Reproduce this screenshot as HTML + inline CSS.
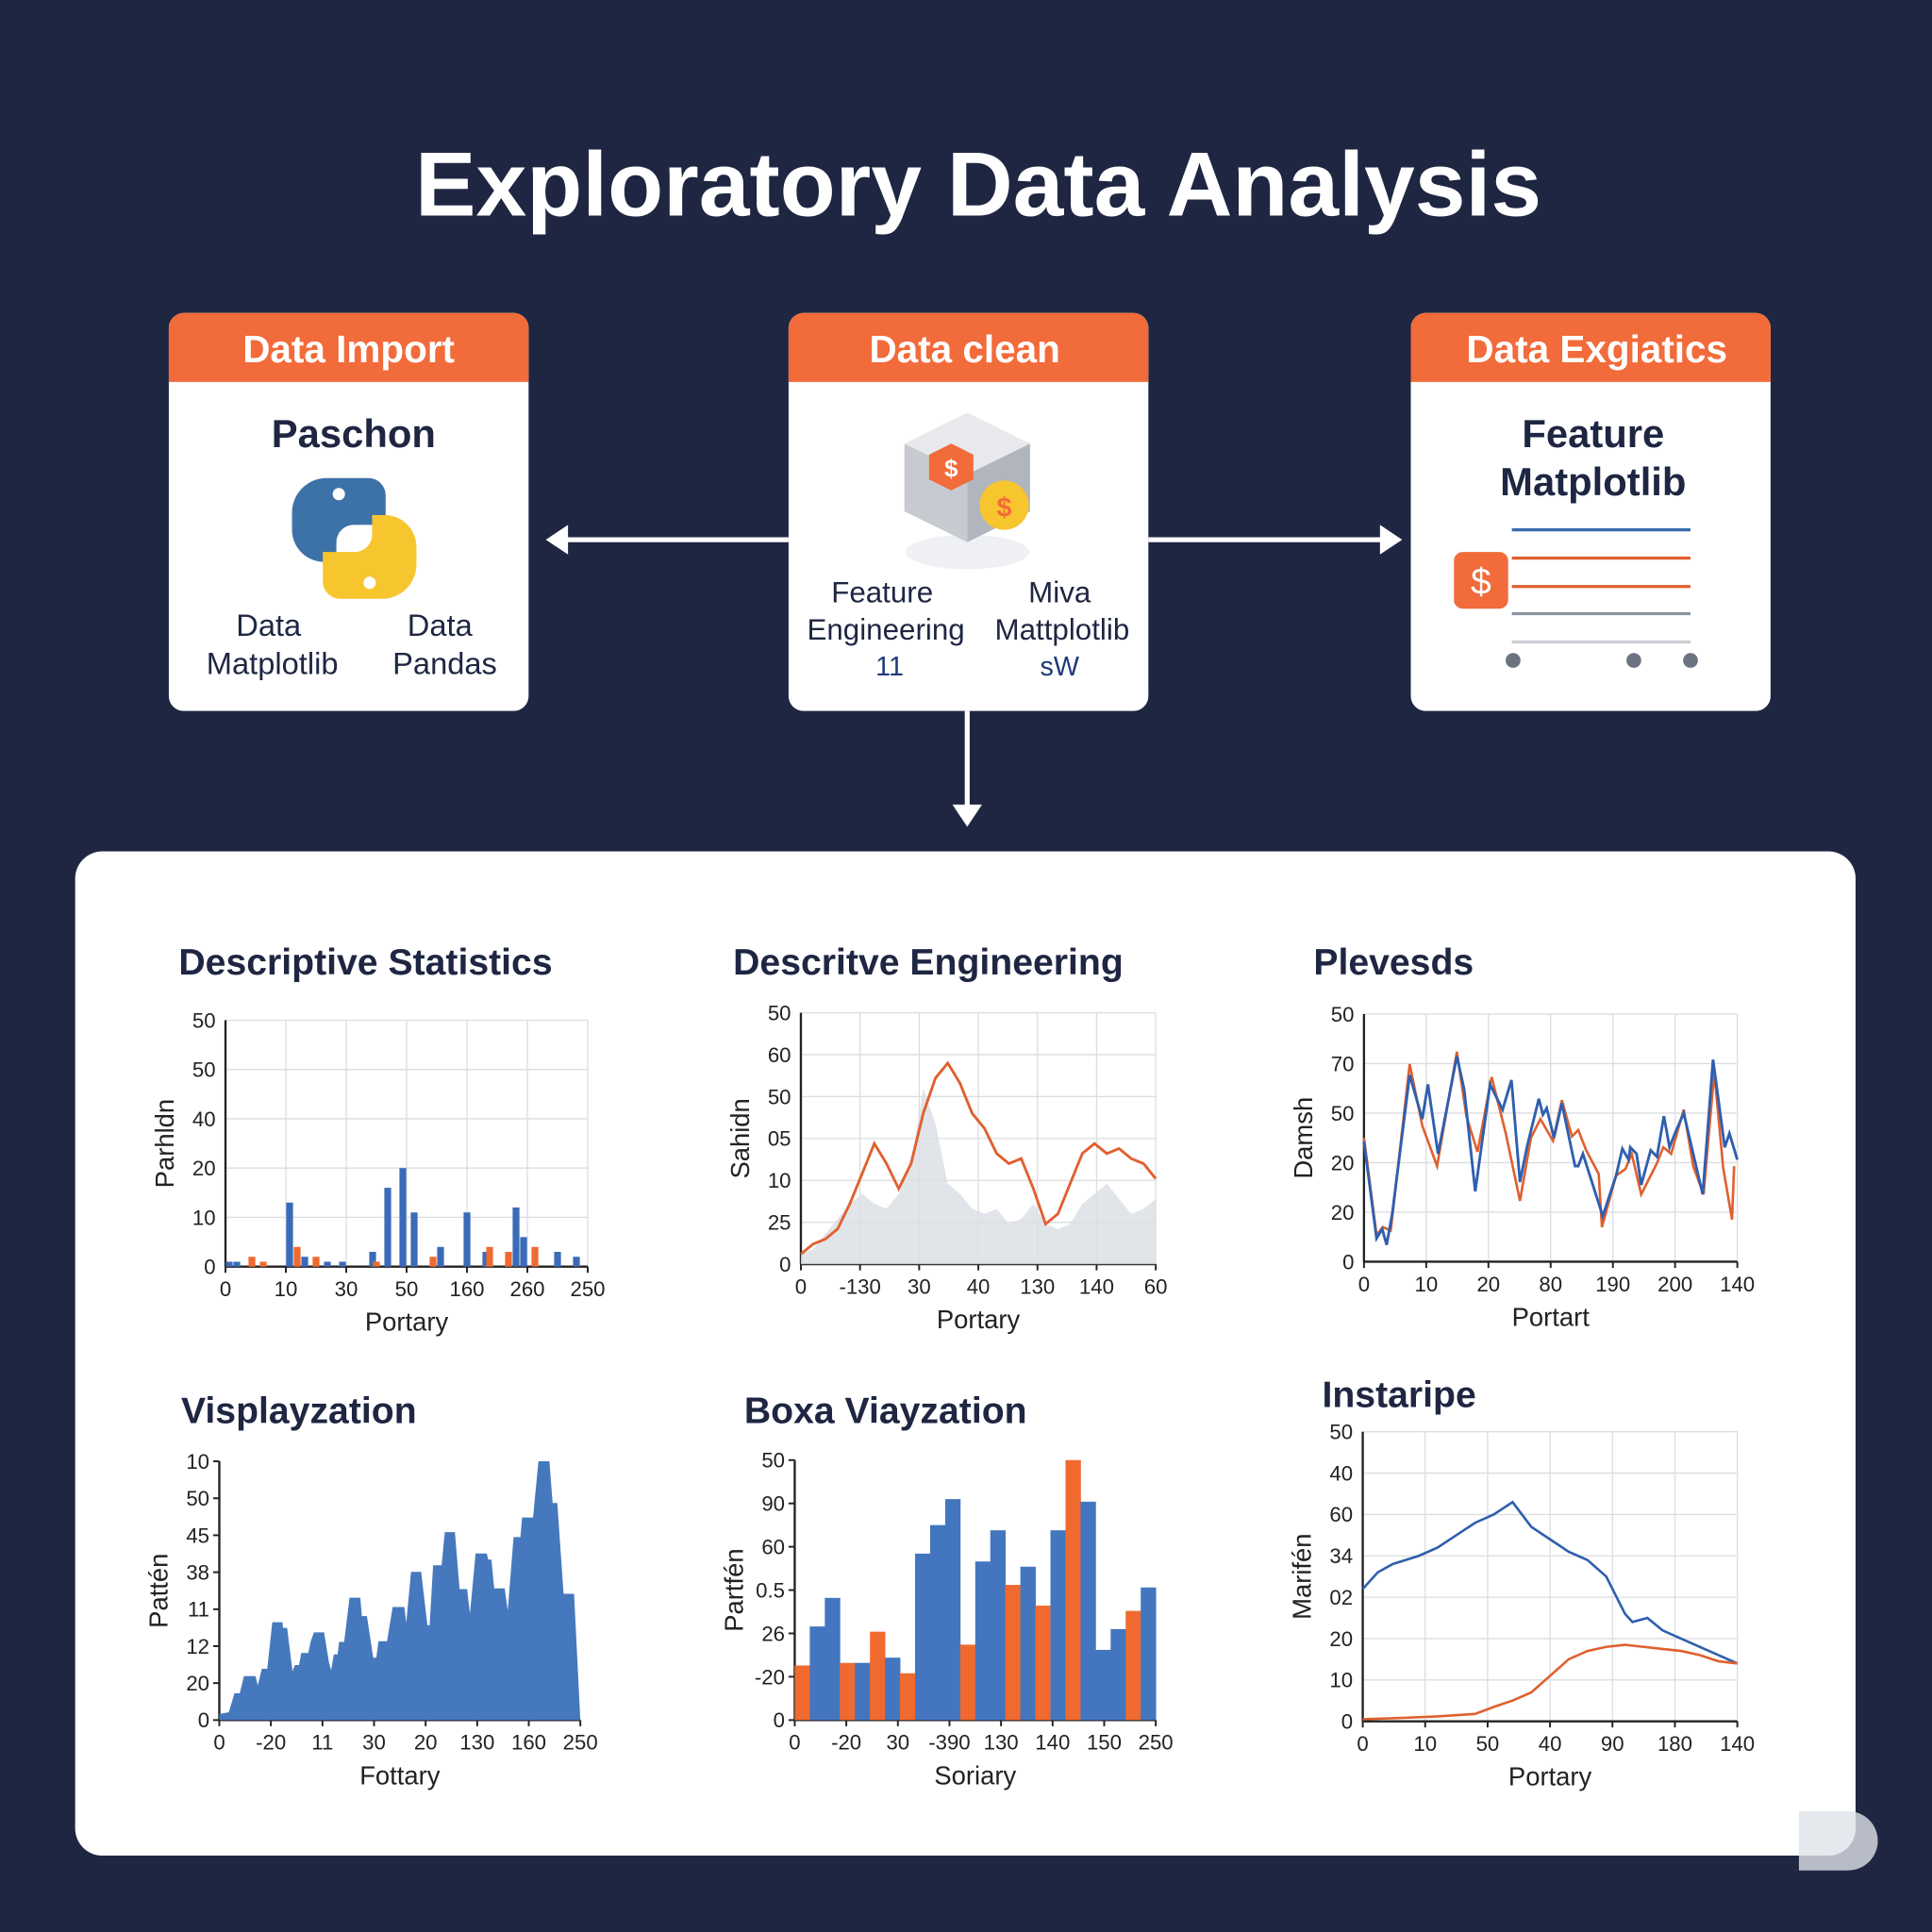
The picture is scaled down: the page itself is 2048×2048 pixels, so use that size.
<!DOCTYPE html>
<html><head><meta charset="utf-8"><style>
html,body{margin:0;padding:0;background:#1e2642;}
svg{display:block}
text{font-family:"Liberation Sans",sans-serif}
</style></head><body>
<svg id="root" width="2048" height="2048" viewBox="0 0 1568 1568" xmlns="http://www.w3.org/2000/svg">
<rect width="1568" height="1568" fill="#1e2642"/>
<text x="794" y="175" text-anchor="middle" font-size="74" font-weight="bold" fill="#fff">Exploratory Data Analysis</text>

<g>
<rect x="137" y="254" width="292" height="323" rx="12" fill="#fff"/>
<path d="M137 310 V266 a12 12 0 0 1 12 -12 H417 a12 12 0 0 1 12 12 V310 Z" fill="#f26b3a"/>
<text x="283" y="294" text-anchor="middle" font-size="31" font-weight="bold" fill="#fff">Data Import</text>
<text x="287" y="363" text-anchor="middle" font-size="32" font-weight="bold" fill="#1e2642">Paschon</text>
<g>
<path d="M285 388 h-20 a28 28 0 0 0 -28 28 v14 a26 26 0 0 0 26 26 h10 v-16 a14 14 0 0 1 14 -14 h26 v-24 a14 14 0 0 0 -14 -14 z" fill="#3d72a8"/>
<circle cx="275" cy="401" r="5" fill="#fff"/>
<path d="M290 486 h20 a28 28 0 0 0 28 -28 v-14 a26 26 0 0 0 -26 -26 h-10 v16 a14 14 0 0 1 -14 14 h-26 v24 a14 14 0 0 0 14 14 z" fill="#f7c52e"/>
<circle cx="300" cy="473" r="5" fill="#fff"/>
</g>
<text x="218" y="516" text-anchor="middle" font-size="25" fill="#1e2642">Data</text>
<text x="221" y="547" text-anchor="middle" font-size="25" fill="#1e2642">Matplotlib</text>
<text x="357" y="516" text-anchor="middle" font-size="25" fill="#1e2642">Data</text>
<text x="361" y="547" text-anchor="middle" font-size="25" fill="#1e2642">Pandas</text>
</g>

<g>
<rect x="640" y="254" width="292" height="323" rx="12" fill="#fff"/>
<path d="M640 310 V266 a12 12 0 0 1 12 -12 H920 a12 12 0 0 1 12 12 V310 Z" fill="#f26b3a"/>
<text x="783" y="294" text-anchor="middle" font-size="31" font-weight="bold" fill="#fff">Data clean</text>
<g>
<ellipse cx="785" cy="448" rx="50" ry="14" fill="#eef0f3"/>
<path d="M734 360 L785 335 L836 360 L785 385 Z" fill="#e8e9ec"/>
<path d="M734 360 L785 385 L785 440 L734 415 Z" fill="#c7cad0"/>
<path d="M836 360 L785 385 L785 440 L836 415 Z" fill="#b1b5bd"/>
<polygon points="772,360 790,369 790,389 772,398 754,389 754,369" fill="#f26b3a"/>
<text x="772" y="387" text-anchor="middle" font-size="20" font-weight="bold" fill="#fff">$</text>
<circle cx="815" cy="410" r="20" fill="#f7c52e"/>
<text x="815" y="419" text-anchor="middle" font-size="22" font-weight="bold" fill="#f26b3a">$</text>
</g>
<text x="716" y="489" text-anchor="middle" font-size="24" fill="#1e2642">Feature</text>
<text x="719" y="519" text-anchor="middle" font-size="24" fill="#1e2642">Engineering</text>
<text x="722" y="548" text-anchor="middle" font-size="22" fill="#1e3a7a">11</text>
<text x="860" y="489" text-anchor="middle" font-size="24" fill="#1e2642">Miva</text>
<text x="862" y="519" text-anchor="middle" font-size="24" fill="#1e2642">Mattplotlib</text>
<text x="860" y="548" text-anchor="middle" font-size="22" fill="#1e3a7a">sW</text>
</g>

<g>
<rect x="1145" y="254" width="292" height="323" rx="12" fill="#fff"/>
<path d="M1145 310 V266 a12 12 0 0 1 12 -12 H1425 a12 12 0 0 1 12 12 V310 Z" fill="#f26b3a"/>
<text x="1296" y="294" text-anchor="middle" font-size="31" font-weight="bold" fill="#fff">Data Exgiatics</text>
<text x="1293" y="363" text-anchor="middle" font-size="32" font-weight="bold" fill="#1e2642">Feature</text>
<text x="1293" y="402" text-anchor="middle" font-size="32" font-weight="bold" fill="#1e2642">Matplotlib</text>
<line x1="1227" y1="430" x2="1372" y2="430" stroke="#3a6bb0" stroke-width="2.5"/>
<line x1="1227" y1="453" x2="1372" y2="453" stroke="#e0602f" stroke-width="2.5"/>
<line x1="1227" y1="476" x2="1372" y2="476" stroke="#e0602f" stroke-width="2.5"/>
<line x1="1227" y1="498" x2="1372" y2="498" stroke="#8a93a0" stroke-width="2.5"/>
<line x1="1227" y1="521" x2="1372" y2="521" stroke="#c9ccd2" stroke-width="2.5"/>
<rect x="1180" y="448" width="44" height="46" rx="7" fill="#f26b3a"/>
<text x="1202" y="482" text-anchor="middle" font-size="30" fill="#fff">$</text>
<circle cx="1228" cy="536" r="6" fill="#6b7280"/>
<circle cx="1326" cy="536" r="6" fill="#6b7280"/>
<circle cx="1372" cy="536" r="6" fill="#6b7280"/>
</g>

<g stroke="#fff" stroke-width="4" fill="#fff">
<line x1="640" y1="438" x2="456" y2="438"/>
<path d="M443 438 L461 426 L461 450 Z" stroke="none"/>
<line x1="932" y1="438" x2="1124" y2="438"/>
<path d="M1138 438 L1120 426 L1120 450 Z" stroke="none"/>
<line x1="785" y1="577" x2="785" y2="657"/>
<path d="M785 671 L773 653 L797 653 Z" stroke="none"/>
</g>

<rect x="61" y="691" width="1445" height="815" rx="22" fill="#fff"/>
<path d="M1460 1470 h40 a18 18 0 0 1 0 48 h-40 z" fill="#dfe2e8" opacity="0.8"/>
<g id="charts"></g>
</svg>
<script>
const c1Ticks=["0","10","20","40","50","50"];
const c1XLabels=["0","10","30","50","160","260","250"];
const c1BlueX=[0.5,1.5,8.5,10.5,13.5,15.5,19.5,21.5,23.5,25,28.5,32,34.5,38.5,39.5,44,46.5];
const c1BlueV=[1,1,13,2,1,1,3,16,20,11,4,11,3,12,6,3,2];
const c1OrangeX=[3.5,5,9.5,12,20,27.5,35,37.5,41];
const c1OrangeV=[2,1,4,2,1,2,4,3,4];

const c2Ticks=["0","25","10","05","50","60","50"];
const c2XLabels=["0","-130","30","40","130","140","60"];
const c2GrayV=[2,3,6,9,12,14,12,11,14,20,35,28,16,14,11,10,11,8,9,12,8,7,8,12,14,16,13,10,11,13];
const c2OrangeV=[2,4,5,7,12,18,24,20,15,20,30,37,40,36,30,27,22,20,21,15,8,10,16,22,24,22,23,21,20,17];

const c3Ticks=["0","20","20","50","70","50"];
const c3XLabels=["0","10","20","80","190","200","140"];
const c3BlueX=[0,40,58,72,90,145,185,203,235,295,318,353,400,440,468,495,518,555,568,580,603,628,670,680,695,758,800,820,840,845,865,880,910,930,952,970,985,1015,1075,1108,1145,1160,1185];
const c3BlueV=[24.3,4.7,6.6,3.4,9.8,37.7,28.8,35.8,21.8,41.5,34.8,14.2,35.8,30.7,36.7,16.1,23.4,32.9,29.7,31,25,32,19.3,19.3,21.8,9.2,17.4,22.8,20.6,23.1,21.8,15.5,22.5,21.2,29.4,23.1,25.6,30,13.6,40.8,23.1,25.9,20.6];
const c3OrangeX=[0,40,60,85,145,185,232,295,325,360,405,450,495,530,560,600,628,660,680,705,745,755,800,830,850,880,930,950,975,1015,1045,1078,1112,1140,1168,1175];
const c3OrangeV=[25,5.4,7,6.3,39.9,27.5,19.3,42.4,29.4,22.2,37.3,25.9,12.3,25,28.8,24.4,32.6,25.3,26.6,22.5,17.7,7,17.4,18.7,21.8,13.6,19.9,23.1,21.8,30.7,19.3,13.6,38.3,19,8.5,19.3];

const c4Ticks=["0","20","12","11","38","45","50","10"];
const c4XLabels=["0","-20","11","30","20","130","160","250"];
const c4X=[0,30,48,65,78,115,122,135,152,168,200,202,215,232,240,253,260,282,290,300,332,348,355,363,375,380,396,413,447,452,468,488,498,505,532,550,587,593,608,640,660,667,678,705,715,747,762,786,795,813,848,853,863,872,905,915,933,955,960,995,1012,1047,1057,1072,1092,1125,1145];
const c4V=[2.4,3,10.4,10.4,17,17,13.4,19.8,19.8,37.8,37.8,35.6,35.6,18.9,21.3,21.3,25.9,25.9,30.5,33.9,33.9,22,19.3,25.4,25.4,30.2,30.2,47.3,47.3,40.2,40.2,24.1,24.1,30.5,30.5,43.7,43.7,37.6,57.3,57.3,36.6,36.6,59.8,59.8,72.6,72.6,50.6,50.6,41.1,64.4,64.4,62,62,50.9,50.9,42.4,70.7,70.7,78.3,78.3,100,100,83.9,83.9,48.8,48.8,0];

const c5Ticks=["0","-20","26","0.5","60","90","50"];
const c5XLabels=["0","-20","30","-390","130","140","150","250"];
const c5Colors=["o","b","b","o","b","o","b","o","b","b","b","o","b","b","o","b","o","b","o","b","b","b","o","b"];
const c5V=[21,36,47,22,22,34,24,18,64,75,85,29,61,73,52,59,44,73,100,84,27,35,42,51];

const c6Ticks=["0","10","20","02","34","60","40","50"];
const c6XLabels=["0","10","50","40","90","180","140"];
const c6BlueX=[0,4,8,15,20,25,30,35,40,45,50,55,60,65,70,72,76,80,85,90,95,100];
const c6BlueV=[32,36,38,40,42,45,48,50,53,47,44,41,39,35,26,24,25,22,20,18,16,14];
const c6OrangeX=[0,10,20,30,35,40,45,50,55,60,65,70,75,80,85,90,95,100];
const c6OrangeV=[0.5,0.8,1.2,1.8,3.5,5,7,11,15,17,18,18.5,18,17.5,17,16,14.5,14];

const NS="http://www.w3.org/2000/svg";
const G=document.getElementById('charts');
const BLUE="#3a6bb8",ORANGE="#f06a30";
function mk(tag,attrs,parent){const e=document.createElementNS(NS,tag);for(const k in attrs)e.setAttribute(k,attrs[k]);(parent||G).appendChild(e);return e;}
function scale(d0,d1,r0,r1){return v=>r0+(v-d0)/(d1-d0)*(r1-r0);}

function frame(o){
  const g=mk('g',{});
  
  
  const t=mk('text',{x:o.tx,y:o.ty,'font-size':30,'font-weight':'bold',fill:'#1e2642'},g);t.textContent=o.title;
  
  
  const n=o.yt.length;
  o.yt.forEach((lab,i)=>{const y=o.y1-(o.y1-o.y0)*i/(n-1);
    if(o.grid)mk('line',{x1:o.x0,x2:o.x1,y1:y,y2:y,stroke:'#dcdde0','stroke-width':1},g);
    if(o.ticks)mk('line',{x1:o.x0-5,x2:o.x0,y1:y,y2:y,stroke:'#222','stroke-width':1.5},g);
    const tx=mk('text',{x:o.x0-8,y:y+6,'text-anchor':'end','font-size':17,fill:'#222'},g);tx.textContent=lab;});
  const m=o.xt.length;
  o.xt.forEach((lab,i)=>{const x=o.x0+(o.x1-o.x0)*i/(m-1);
    if(o.grid)mk('line',{x1:x,x2:x,y1:o.y0,y2:o.y1,stroke:'#dcdde0','stroke-width':1},g);
    mk('line',{x1:x,x2:x,y1:o.y1,y2:o.y1+5,stroke:'#222','stroke-width':1.5},g);
    const tx=mk('text',{x:x,y:o.y1+24,'text-anchor':'middle','font-size':17,fill:'#222'},g);tx.textContent=lab;});
  mk('line',{x1:o.x0,x2:o.x0,y1:o.y0,y2:o.y1,stroke:'#222','stroke-width':1.8},g);
  mk('line',{x1:o.x0,x2:o.x1,y1:o.y1,y2:o.y1,stroke:'#222','stroke-width':1.8},g);
  const xl=mk('text',{x:(o.x0+o.x1)/2,y:o.y1+52,'text-anchor':'middle','font-size':21,fill:'#222'},g);xl.textContent=o.xlab;
  
  
  const yx=o.x0-42,yy=(o.y0+o.y1)/2;
  const yl=mk('text',{x:yx,y:yy,'text-anchor':'middle','font-size':21,fill:'#222',transform:`rotate(-90 ${yx} ${yy})`},g);yl.textContent=o.ylab;
  
  
  return g;
}
function pathOf(xs,vs,sx,sy){return xs.map((x,i)=>(i?'L':'M')+sx(x).toFixed(1)+' '+sy(vs[i]).toFixed(1)).join(' ');}

{const o={name:'descriptive-statistics-chart',title:'Descriptive Statistics',tx:145,ty:791,x0:183,x1:477,y0:828,y1:1028,yt:c1Ticks,xt:c1XLabels,grid:true,xlab:'Portary',ylab:'Parhldn'};
const g=frame(o);const sx=scale(0,48,o.x0,o.x1),sy=scale(0,50,o.y1,o.y0);const w=(o.x1-o.x0)/48*0.9;
c1BlueX.forEach((x,i)=>{const r=mk('rect',{x:sx(x)-w/2,y:sy(c1BlueV[i]),width:w,height:o.y1-sy(c1BlueV[i]),fill:BLUE},g);

});
c1OrangeX.forEach((x,i)=>{const r=mk('rect',{x:sx(x)-w/2,y:sy(c1OrangeV[i]),width:w,height:o.y1-sy(c1OrangeV[i]),fill:ORANGE},g);

});}

{const o={name:'descriptive-engineering-chart',title:'Descritve Engineering',tx:595,ty:791,x0:650,x1:938,y0:822,y1:1026,yt:c2Ticks,xt:c2XLabels,grid:true,xlab:'Portary',ylab:'Sahidn'};
const g=frame(o);const n=c2GrayV.length;const xs=c2GrayV.map((_,i)=>i);const sx=scale(0,n-1,o.x0,o.x1),sy=scale(0,50,o.y1,o.y0);
const a=mk('path',{d:pathOf(xs,c2GrayV,sx,sy)+` L${o.x1} ${o.y1} L${o.x0} ${o.y1} Z`,fill:'#dcdfe4',opacity:0.85},g);


const l=mk('path',{d:pathOf(xs,c2OrangeV,sx,sy),fill:'none',stroke:'#e0602f','stroke-width':2.2},g);

}

{const o={name:'plevesds-chart',title:'Plevesds',tx:1066,ty:791,x0:1107,x1:1410,y0:823,y1:1024,yt:c3Ticks,xt:c3XLabels,grid:true,xlab:'Portart',ylab:'Damsh'};
const g=frame(o);const sx=scale(0,1185,o.x0,o.x1),sy=scale(0,50,o.y1,o.y0);
const l2=mk('path',{d:pathOf(c3OrangeX,c3OrangeV,sx,sy),fill:'none',stroke:'#e0602f','stroke-width':2},g);


const l=mk('path',{d:pathOf(c3BlueX,c3BlueV,sx,sy),fill:'none',stroke:'#2f5fae','stroke-width':2.2},g);

}

{const o={name:'visplayzation-chart',title:'Visplayzation',tx:147,ty:1155,x0:178,x1:471,y0:1186,y1:1396,yt:c4Ticks,xt:c4XLabels,grid:false,ticks:true,xlab:'Fottary',ylab:'Pattén'};
const g=frame(o);const sx=scale(0,1145,o.x0,o.x1),sy=scale(0,100,o.y1,o.y0);
const a=mk('path',{d:pathOf(c4X,c4V,sx,sy)+` L${o.x0} ${o.y1} Z`,fill:'#4678bd'},g);

}

{const o={name:'boxa-viayzation-chart',title:'Boxa Viayzation',tx:604,ty:1155,x0:645,x1:938,y0:1185,y1:1396,yt:c5Ticks,xt:c5XLabels,grid:false,ticks:true,xlab:'Soriary',ylab:'Partfén'};
const g=frame(o);const n=c5V.length;const bw=(o.x1-o.x0)/n;const sy=scale(0,100,o.y1,o.y0);
c5V.forEach((v,i)=>{const r=mk('rect',{x:o.x0+i*bw,y:sy(v),width:bw+0.3,height:o.y1-sy(v),fill:c5Colors[i]=='o'?ORANGE:'#4476c0'},g);

});}

{const o={name:'instaripe-chart',title:'Instaripe',tx:1073,ty:1142,x0:1106,x1:1410,y0:1162,y1:1397,yt:c6Ticks,xt:c6XLabels,grid:true,xlab:'Portary',ylab:'Marifén'};
const g=frame(o);const sx=scale(0,100,o.x0,o.x1),sy=scale(0,70,o.y1,o.y0);
const l=mk('path',{d:pathOf(c6BlueX,c6BlueV,sx,sy),fill:'none',stroke:'#2f5fae','stroke-width':2},g);


const l2=mk('path',{d:pathOf(c6OrangeX,c6OrangeV,sx,sy),fill:'none',stroke:'#e0602f','stroke-width':2},g);

}
</script>
</body></html>
